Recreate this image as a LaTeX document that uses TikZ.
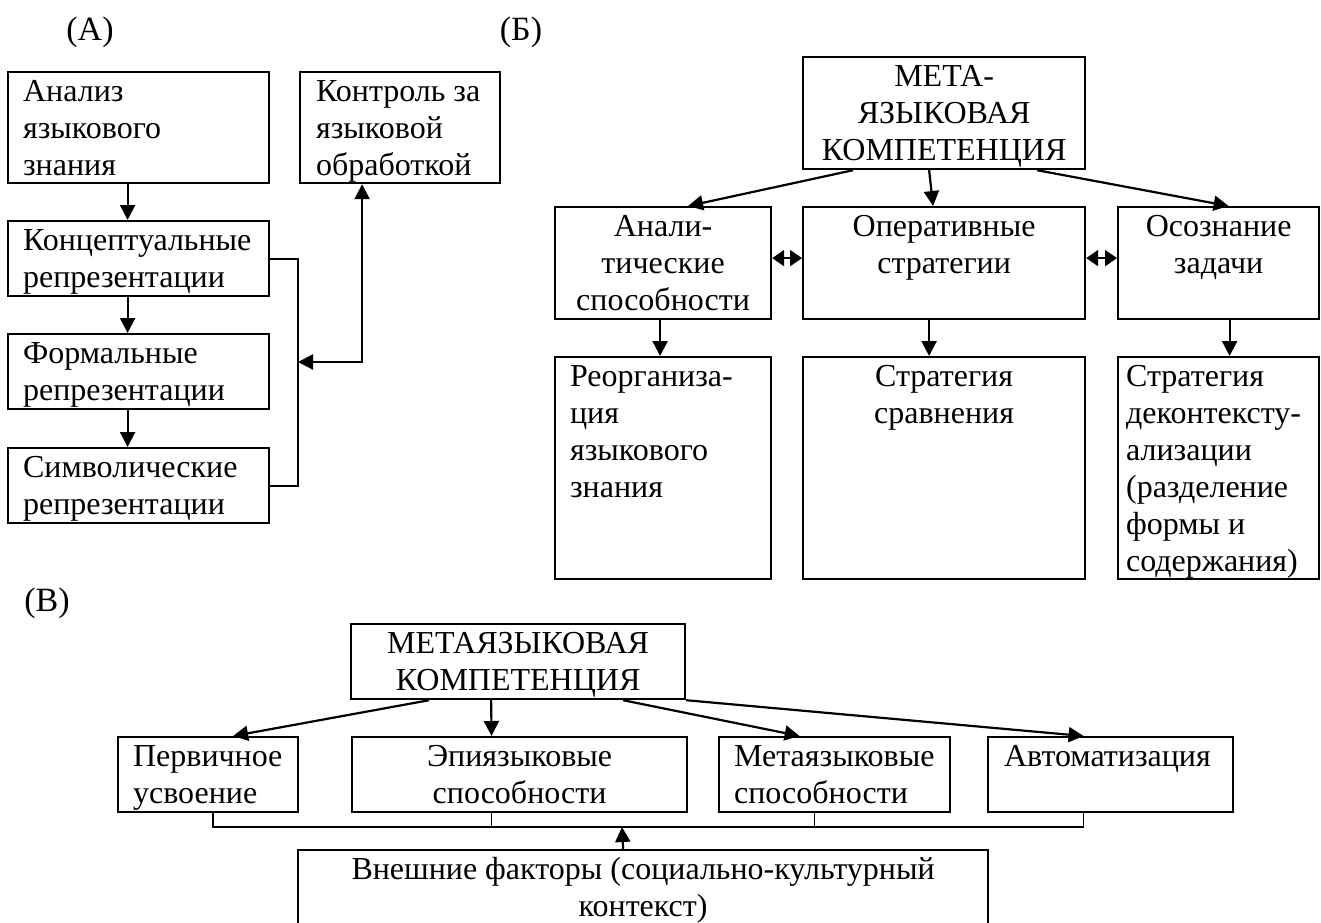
\documentclass[tikz,border=0pt]{standalone}
\usepackage{fontspec}
\setmainfont{Liberation Serif}
\usetikzlibrary{arrows.meta}

\newcommand{\lefttxt}[4][15]{\parbox[t][#3pt][t]{#2pt}{\raggedright\leftskip=#1pt\relax\rule{0pt}{29pt}#4}}
\newcommand{\midtxt}[3]{\parbox[t][#2pt][t]{#1pt}{\centering\rule{0pt}{29pt}#3}}

\begin{document}
\begin{tikzpicture}[x=1pt,y=-1pt,
    every node/.style={font=\fontsize{32}{37}\selectfont},
    box/.style={draw,line width=2.2pt,inner sep=0pt,anchor=north west},
    tag/.style={font=\fontsize{34}{38}\selectfont,inner sep=0pt},
    >={Triangle[length=15pt,width=15pt]},
    arr/.style={->,line width=2.2pt},
    dbl/.style={{Triangle[length=12pt,width=16pt]}-{Triangle[length=12pt,width=16pt]},line width=2.2pt},
    bus/.style={line width=1.4pt}]
\useasboundingbox (0,0) rectangle (1321,922);

% (A)
\node[tag] (ta) at (90,32) {(А)};
\node[box] (an) at (7,71) {\lefttxt{261}{111}{Анализ\\языкового\\знания}};
\node[box] (kon) at (299,71) {\lefttxt[16]{200}{111}{Контроль за\\языковой\\обработкой}};
\node[box] (konc) at (7,220) {\lefttxt{261}{75}{Концептуальные\\репрезентации}};
\node[box] (form) at (7,333) {\lefttxt{261}{75}{Формальные\\репрезентации}};
\node[box] (sim) at (7,447) {\lefttxt{261}{75}{Символические\\репрезентации}};
\coordinate (ja) at (298,362);

\draw[arr] ([xshift=-11pt]an.south) -- ([xshift=-11pt]konc.north);
\draw[arr] ([xshift=-11pt]konc.south) -- ([xshift=-11pt]form.north);
\draw[arr] ([xshift=-11pt]form.south) -- ([xshift=-11pt]sim.north);
\draw[line width=1.8pt] (konc.east) -| (ja) |- (sim.east);
\draw[arr,<->] (ja) -| ([xshift=-38pt]kon.south);

% (B)
\node[tag] (tb) at (521,32) {(Б)};
\node[box] (ma) at (802,56) {\midtxt{282}{112}{МЕТА-\\ЯЗЫКОВАЯ\\КОМПЕТЕНЦИЯ}};
\node[box] (anal) at (554,206) {\midtxt{216}{112}{Анали-\\тические\\способности}};
\node[box] (oper) at (802,206) {\midtxt{282}{112}{Оперативные\\стратегии}};
\node[box] (osoz) at (1117,206) {\midtxt{201}{112}{Осознание\\задачи}};
\node[box] (reorg) at (554,356) {\lefttxt{216}{222}{Реорганиза-\\ция\\языкового\\знания}};
\node[box] (sravn) at (802,356) {\midtxt{282}{222}{Стратегия\\сравнения}};
\node[box] (dekon) at (1117,356) {\lefttxt[8]{201}{222}{Стратегия\\деконтексту-\\ализации\\(разделение\\формы и\\содержания)}};

\draw[arr] ([xshift=-91pt]ma.south) -- ([xshift=25pt]anal.north);
\draw[arr] ([xshift=-15pt]ma.south) -- ([xshift=-11pt]oper.north);
\draw[arr] ([xshift=93pt]ma.south) -- ([xshift=10pt]osoz.north);
\draw[dbl] ([yshift=5pt]anal.east) -- ([yshift=5pt]oper.west);
\draw[dbl] ([yshift=5pt]oper.east) -- ([yshift=5pt]osoz.west);
\draw[arr] ([xshift=-3pt]anal.south) -- ([xshift=-3pt]reorg.north);
\draw[arr] ([xshift=-15pt]oper.south) -- ([xshift=-15pt]sravn.north);
\draw[arr] ([xshift=11pt]osoz.south) -- ([xshift=11pt]dekon.north);

% (V)
\node[tag] (tv) at (47,603) {(В)};
\node[box] (mb) at (350,623) {\midtxt{334}{75}{МЕТАЯЗЫКОВАЯ\\КОМПЕТЕНЦИЯ}};
\node[box] (perv) at (117,736) {\lefttxt{180}{75}{Первичное\\усвоение}};
\node[box] (epi) at (351,736) {\midtxt{335}{75}{Эпиязыковые\\способности}};
\node[box] (meta2) at (718,736) {\lefttxt{231}{75}{Метаязыковые\\способности}};
\node[box] (avto) at (987,736) {\lefttxt[16]{245}{75}{Автоматизация}};
\node[box] (vn) at (297,849) {\midtxt{690}{81}{Внешние факторы (социально-культурный\\контекст)}};
\coordinate (jv) at (622,827);
\coordinate (te) at ([xshift=-28pt]epi.south);
\coordinate (tm) at ([xshift=-20pt]meta2.south);

\draw[arr] ([xshift=-89pt]mb.south) -- ([xshift=25pt]perv.north);
\draw[arr] ([xshift=-27pt]mb.south) -- ([xshift=-28pt]epi.north);
\draw[arr] ([xshift=105pt]mb.south) -- ([xshift=-35pt]meta2.north);
\draw[arr] (mb.south east) -- ([xshift=-27pt]avto.north);
\draw[bus] ([xshift=5pt]perv.south) |- (jv) -| ([xshift=-27pt]avto.south);
\draw[bus] (te) -- (te |- jv);
\draw[bus] (tm) -- (tm |- jv);
\draw[arr] ([xshift=-20pt]vn.north) -- (jv);
\end{tikzpicture}
\end{document}
